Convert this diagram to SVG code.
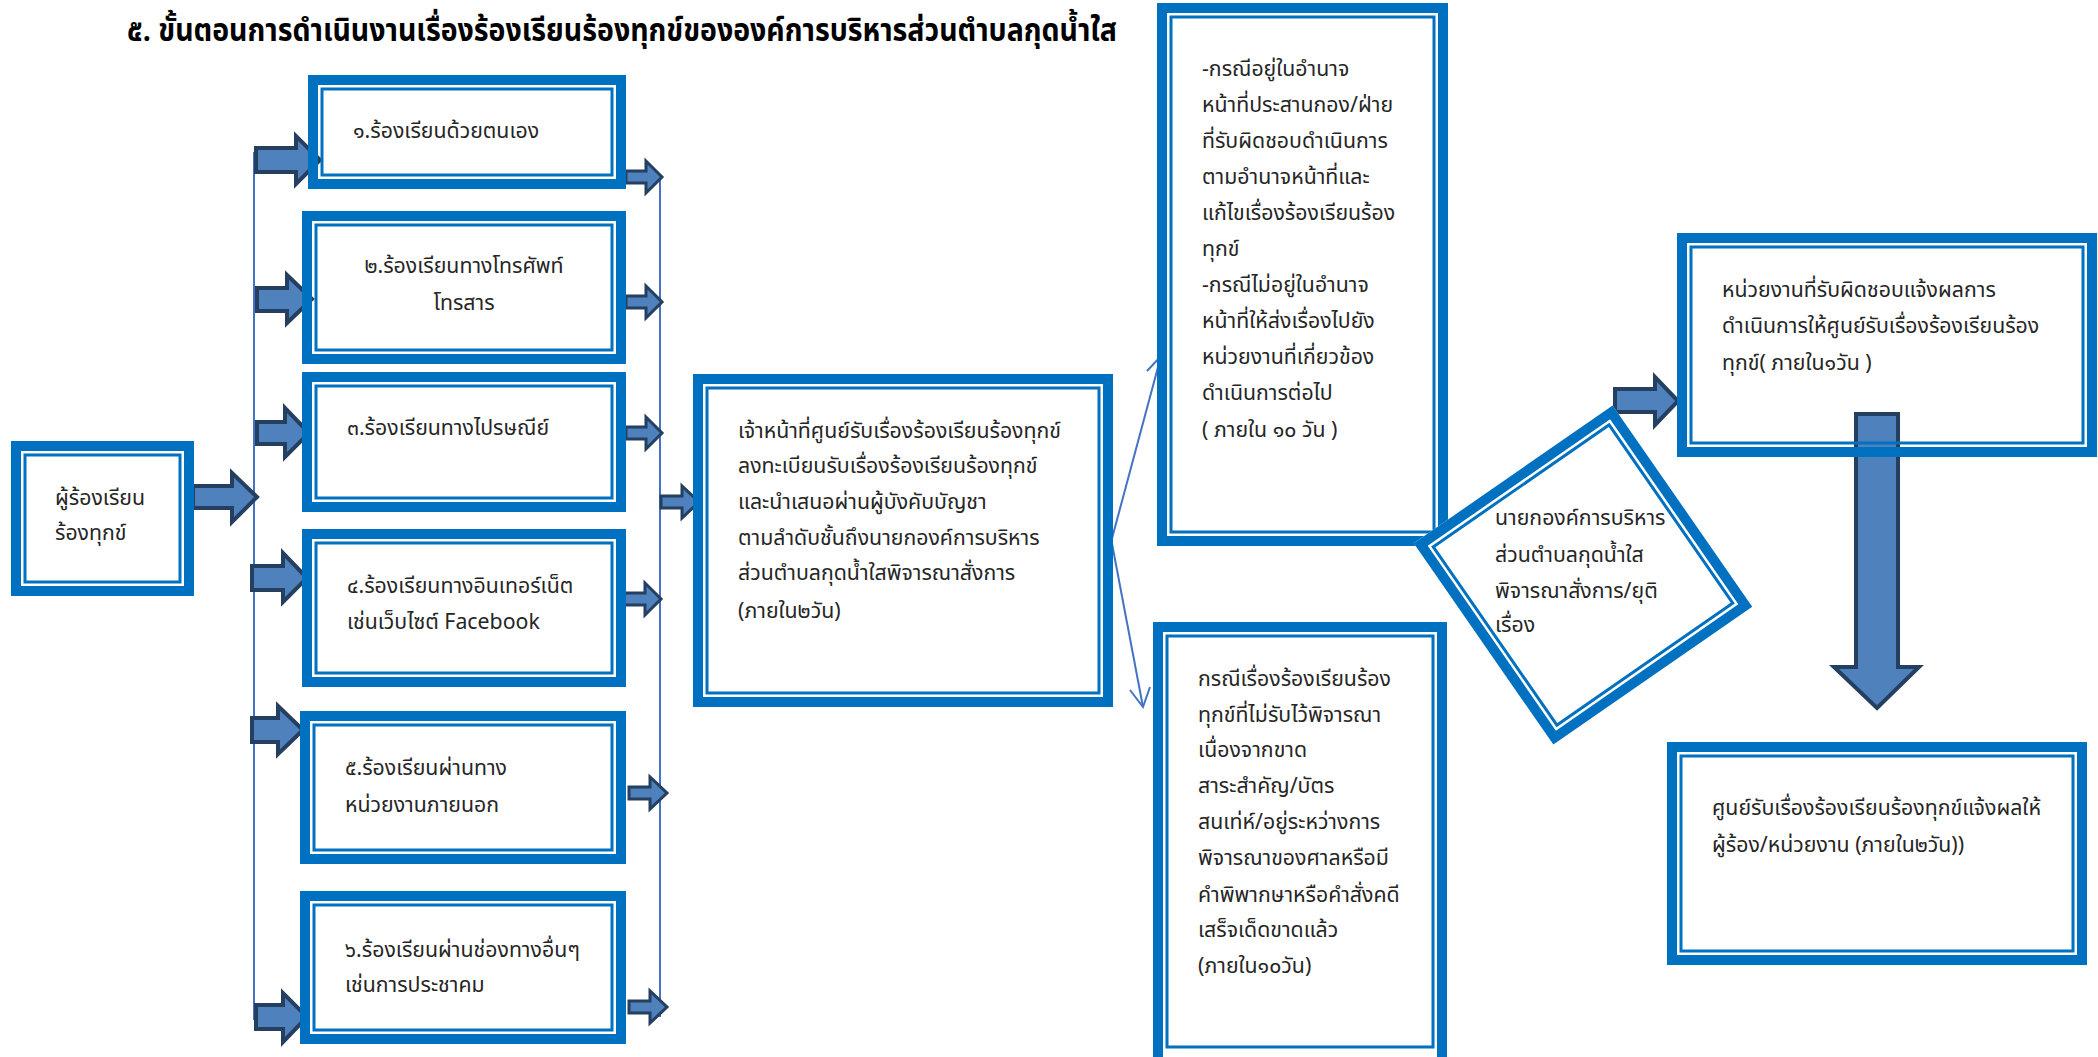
<svg xmlns="http://www.w3.org/2000/svg" width="2098" height="1057" viewBox="0 0 2098 1057">
<style>
.bo{fill:none;stroke:#0070C0;stroke-width:10}
.bi{fill:none;stroke:#0070C0;stroke-width:3}
.bg{fill:#fff}
.t{font-family:"Noto Sans Thai","Noto Sans","DejaVu Sans",sans-serif;font-size:21.3px;fill:#262626}
.ttl{font-family:"Noto Sans Thai","Noto Sans","DejaVu Sans",sans-serif;font-size:31px;font-weight:bold;fill:#000}
.ba{fill:#4F81BD;stroke:#243F60;stroke-width:4;stroke-linejoin:miter}
.sa{fill:#4F81BD;stroke:#243F60;stroke-width:3;stroke-linejoin:miter}
.cl{fill:none;stroke:#4472C4;stroke-width:2}
</style>
<rect width="2098" height="1057" fill="#fff"/>
<text class="ttl" x="127" y="41" textLength="990" lengthAdjust="spacingAndGlyphs">๕. ขั้นตอนการดำเนินงานเรื่องร้องเรียนร้องทุกข์ขององค์การบริหารส่วนตำบลกุดน้ำใส</text>

<g id="connectors">
<line class="cl" x1="254" y1="152" x2="254" y2="1020"/>
<line class="cl" x1="660" y1="176" x2="660" y2="1017"/>
<polyline class="cl" points="1107,557 1161,356"/>
<polyline class="cl" points="1147,371 1161,356 1165,375"/>
<polyline class="cl" points="1106,512 1143,707"/>
<polyline class="cl" points="1130,690 1143,707 1150,687"/>
<path class="ba" d="M193,486 H232 V473 L257,497 L232,522 V508 H193 Z"/>
<path class="ba" d="M256,148 H296 V136 L320,160 L296,184 V172 H256 Z"/>
<path class="ba" d="M257,288 H287 V275 L312,299 L287,323 V311 H257 Z"/>
<path class="ba" d="M257,422 H285 V408 L309,433 L285,457 V444 H257 Z"/>
<path class="ba" d="M252,566 H283 V553 L307,578 L283,602 V590 H252 Z"/>
<path class="ba" d="M252,718 H278 V706 L303,730 L278,754 V742 H252 Z"/>
<path class="ba" d="M256,1005 H283 V993 L307,1017 L283,1042 V1029 H256 Z"/>
<path class="sa" d="M626,171 H646 V161 L662,177 L646,193 V183 H626 Z"/>
<path class="sa" d="M626,296 H646 V286 L662,302 L646,318 V308 H626 Z"/>
<path class="sa" d="M626,427 H646 V417 L662,433 L646,449 V439 H626 Z"/>
<path class="sa" d="M624,593 H645 V583 L661,599 L645,615 V605 H624 Z"/>
<path class="sa" d="M629,787 H650 V777 L667,793 L650,809 V799 H629 Z"/>
<path class="sa" d="M629,1001 H650 V991 L667,1007 L650,1023 V1013 H629 Z"/>
<path class="sa" d="M661,496 H682 V486 L699,502 L682,518 V508 H661 Z"/>
<path class="ba" d="M1615,389 H1655 V377 L1678,401 L1655,425 V412 H1615 Z"/>
<path class="ba" d="M1856,414 H1898 V667 H1919 L1877,708 L1834,667 H1856 Z"/>
</g>

<g id="complainant">
<rect class="bg" x="11" y="441" width="183" height="155"/>
<rect class="bo" x="16" y="446" width="173" height="145"/>
<rect class="bi" x="25" y="455" width="155" height="127"/>
<text class="t" x="55" y="505">ผู้ร้องเรียน</text>
<text class="t" x="55" y="540">ร้องทุกข์</text>
</g>

<g id="ch1">
<rect class="bo" x="313" y="80" width="308" height="104"/>
<rect class="bi" x="322" y="89" width="290" height="86"/>
<text class="t" x="353" y="138">๑.ร้องเรียนด้วยตนเอง</text>
</g>
<g id="ch2">
<rect class="bo" x="307" y="216" width="314" height="143"/>
<rect class="bi" x="316" y="225" width="296" height="125"/>
<text class="t" x="464" y="273" text-anchor="middle">๒.ร้องเรียนทางโทรศัพท์</text>
<text class="t" x="464" y="310" text-anchor="middle">โทรสาร</text>
</g>
<g id="ch3">
<rect class="bo" x="307" y="377" width="314" height="130"/>
<rect class="bi" x="316" y="386" width="296" height="112"/>
<text class="t" x="347" y="435">๓.ร้องเรียนทางไปรษณีย์</text>
</g>
<g id="ch4">
<rect class="bo" x="307" y="534" width="314" height="148"/>
<rect class="bi" x="316" y="543" width="296" height="130"/>
<text class="t" x="347" y="593">๔.ร้องเรียนทางอินเทอร์เน็ต</text>
<text class="t" x="347" y="629">เช่นเว็บไซต์ Facebook</text>
</g>
<g id="ch5">
<rect class="bo" x="305" y="716" width="316" height="143"/>
<rect class="bi" x="314" y="725" width="298" height="125"/>
<text class="t" x="345" y="775">๕.ร้องเรียนผ่านทาง</text>
<text class="t" x="345" y="812">หน่วยงานภายนอก</text>
</g>
<g id="ch6">
<rect class="bo" x="305" y="896" width="316" height="143"/>
<rect class="bi" x="314" y="905" width="298" height="125"/>
<text class="t" x="345" y="957">๖.ร้องเรียนผ่านช่องทางอื่นๆ</text>
<text class="t" x="345" y="992">เช่นการประชาคม</text>
</g>

<g id="officer">
<rect class="bo" x="698" y="379" width="410" height="323"/>
<rect class="bi" x="707" y="388" width="392" height="305"/>
<text class="t" x="738" y="438">เจ้าหน้าที่ศูนย์รับเรื่องร้องเรียนร้องทุกข์</text>
<text class="t" x="738" y="473">ลงทะเบียนรับเรื่องร้องเรียนร้องทุกข์</text>
<text class="t" x="738" y="509">และนำเสนอผ่านผู้บังคับบัญชา</text>
<text class="t" x="738" y="545">ตามลำดับชั้นถึงนายกองค์การบริหาร</text>
<text class="t" x="738" y="580">ส่วนตำบลกุดน้ำใสพิจารณาสั่งการ</text>
<text class="t" x="738" y="618">(ภายใน๒วัน)</text>
</g>

<g id="in-authority">
<rect class="bo" x="1162" y="8" width="281" height="533"/>
<rect class="bi" x="1171" y="17" width="263" height="515"/>
<text class="t" x="1202" y="76">-กรณีอยู่ในอำนาจ</text>
<text class="t" x="1202" y="112">หน้าที่ประสานกอง/ฝ่าย</text>
<text class="t" x="1202" y="148">ที่รับผิดชอบดำเนินการ</text>
<text class="t" x="1202" y="184">ตามอำนาจหน้าที่และ</text>
<text class="t" x="1202" y="220">แก้ไขเรื่องร้องเรียนร้อง</text>
<text class="t" x="1202" y="256">ทุกข์</text>
<text class="t" x="1202" y="292">-กรณีไม่อยู่ในอำนาจ</text>
<text class="t" x="1202" y="328">หน้าที่ให้ส่งเรื่องไปยัง</text>
<text class="t" x="1202" y="364">หน่วยงานที่เกี่ยวข้อง</text>
<text class="t" x="1202" y="400">ดำเนินการต่อไป</text>
<text class="t" x="1202" y="437">( ภายใน ๑๐ วัน )</text>
</g>

<g id="not-accepted">
<rect class="bo" x="1158" y="627" width="284" height="440"/>
<rect class="bi" x="1167" y="636" width="266" height="411"/>
<text class="t" x="1198" y="686">กรณีเรื่องร้องเรียนร้อง</text>
<text class="t" x="1198" y="722">ทุกข์ที่ไม่รับไว้พิจารณา</text>
<text class="t" x="1198" y="757">เนื่องจากขาด</text>
<text class="t" x="1198" y="793">สาระสำคัญ/บัตร</text>
<text class="t" x="1198" y="829">สนเท่ห์/อยู่ระหว่างการ</text>
<text class="t" x="1198" y="865">พิจารณาของศาลหรือมี</text>
<text class="t" x="1198" y="902">คำพิพากษาหรือคำสั่งคดี</text>
<text class="t" x="1198" y="937">เสร็จเด็ดขาดแล้ว</text>
<text class="t" x="1198" y="973">(ภายใน๑๐วัน)</text>
</g>

<g id="mayor">
<g transform="translate(1583,575) rotate(-34.74)">
<rect class="bg" x="-121" y="-122.5" width="242" height="245"/>
<rect class="bo" x="-116" y="-117.5" width="232" height="235"/>
<rect class="bi" x="-107" y="-108.5" width="214" height="217"/>
</g>
<text class="t" x="1495" y="525">นายกองค์การบริหาร</text>
<text class="t" x="1495" y="562">ส่วนตำบลกุดน้ำใส</text>
<text class="t" x="1495" y="598">พิจารณาสั่งการ/ยุติ</text>
<text class="t" x="1495" y="632">เรื่อง</text>
</g>

<g id="unit-report">
<rect class="bo" x="1682" y="238" width="410" height="214"/>
<rect class="bi" x="1691" y="247" width="392" height="196"/>
<text class="t" x="1722" y="297">หน่วยงานที่รับผิดชอบแจ้งผลการ</text>
<text class="t" x="1722" y="333">ดำเนินการให้ศูนย์รับเรื่องร้องเรียนร้อง</text>
<text class="t" x="1722" y="370">ทุกข์( ภายใน๑วัน )</text>
</g>

<g id="center-report">
<rect class="bo" x="1672" y="747" width="410" height="213"/>
<rect class="bi" x="1681" y="756" width="392" height="195"/>
<text class="t" x="1712" y="815">ศูนย์รับเรื่องร้องเรียนร้องทุกข์แจ้งผลให้</text>
<text class="t" x="1712" y="852">ผู้ร้อง/หน่วยงาน (ภายใน๒วัน))</text>
</g>
</svg>
